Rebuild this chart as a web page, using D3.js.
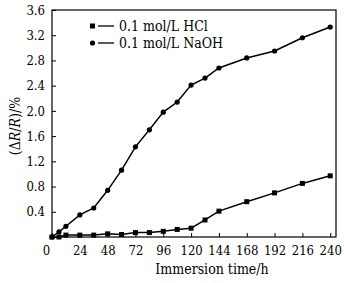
<!DOCTYPE html>
<html>
<head>
<meta charset="utf-8">
<script src="https://cdn.jsdelivr.net/npm/d3@7"></script>
<style>
body { margin: 0; background: #fff; }
svg { display: block; }
svg text { font-family: "DejaVu Serif Condensed", "DejaVu Serif", serif; font-stretch: condensed; }
</style>
</head>
<body>
<svg width="344" height="283"></svg>
<script>
var hours = [0, 6, 12, 24, 36, 48, 60, 72, 84, 96, 108, 120, 132, 144, 168, 192, 216, 240];
var hcl = [0, 0, 0.03, 0.03, 0.03, 0.05, 0.04, 0.07, 0.07, 0.09, 0.12, 0.14, 0.27, 0.41, 0.56, 0.70, 0.85, 0.97];
var naoh = [0, 0.08, 0.17, 0.35, 0.46, 0.74, 1.06, 1.43, 1.70, 1.98, 2.14, 2.41, 2.52, 2.68, 2.84, 2.95, 3.16, 3.33];
var xticks = [0, 24, 48, 72, 96, 120, 144, 168, 192, 216, 240];
var yticks = [0.4, 0.8, 1.2, 1.6, 2.0, 2.4, 2.8, 3.2, 3.6];
var seriesNames = ["0.1 mol/L HCl", "0.1 mol/L NaOH"];

const plotLeft = 52, plotRight = 336, plotTop = 10, plotBottom = 237;

window.onload = function() {
    var svg = d3.select("svg");

    var x = d3.scaleLinear().domain([0, 245]).range([plotLeft, plotRight]);
    var y = d3.scaleLinear().domain([0, 3.6]).range([plotBottom, plotTop]);

    // frame
    svg.append("rect")
        .attr("x", plotLeft).attr("y", plotTop)
        .attr("width", plotRight - plotLeft).attr("height", plotBottom - plotTop)
        .attr("fill", "none").attr("stroke", "#000").attr("stroke-width", 1.2);

    // axes, ticks inside
    var xAxis = svg.append("g")
        .attr("transform", "translate(0," + plotBottom + ")")
        .call(d3.axisBottom(x).tickValues(xticks).tickSizeInner(-4).tickSizeOuter(0).tickPadding(9)
            .tickFormat(d3.format("d")));
    var yAxis = svg.append("g")
        .attr("transform", "translate(" + plotLeft + ",0)")
        .call(d3.axisLeft(y).tickValues(yticks).tickSizeInner(-4).tickSizeOuter(0).tickPadding(7)
            .tickFormat(d3.format(".1f")));

    [xAxis, yAxis].forEach(function(g) {
        g.attr("font-family", null).attr("font-size", null);
        g.select(".domain").remove();
        g.selectAll("line").attr("stroke", "#000").attr("stroke-width", 1);
        g.selectAll("text").attr("font-size", 13).attr("fill", "#000");
    });
    xAxis.selectAll(".tick").filter(function(d) { return d === 0; })
        .select("text").attr("dx", -6);

    // series lines + markers
    var line = d3.line()
        .x(function(d) { return x(d[0]); })
        .y(function(d) { return y(d[1]); });

    var hclPts = hours.map(function(h, i) { return [h, hcl[i]]; });
    var naohPts = hours.map(function(h, i) { return [h, naoh[i]]; });

    svg.append("path").datum(hclPts).attr("d", line)
        .attr("fill", "none").attr("stroke", "#000").attr("stroke-width", 1.5);
    svg.append("path").datum(naohPts).attr("d", line)
        .attr("fill", "none").attr("stroke", "#000").attr("stroke-width", 1.5);

    svg.selectAll("rect.hcl").data(hclPts).enter().append("rect")
        .attr("class", "hcl")
        .attr("x", function(d) { return x(d[0]) - 2.5; })
        .attr("y", function(d) { return y(d[1]) - 2.5; })
        .attr("width", 5).attr("height", 5)
        .attr("fill", "#000");

    svg.selectAll("circle.naoh").data(naohPts).enter().append("circle")
        .attr("class", "naoh")
        .attr("cx", function(d) { return x(d[0]); })
        .attr("cy", function(d) { return y(d[1]); })
        .attr("r", 2.6)
        .attr("fill", "#000");

    // legend
    var legend = svg.append("g");
    seriesNames.forEach(function(name, i) {
        var ly = 26 + i * 17;
        if (i === 0) {
            legend.append("rect").attr("x", 90).attr("y", ly - 2.5)
                .attr("width", 5).attr("height", 5).attr("fill", "#000");
        } else {
            legend.append("circle").attr("cx", 92.5).attr("cy", ly).attr("r", 2.6).attr("fill", "#000");
        }
        legend.append("line").attr("x1", 98).attr("x2", 114).attr("y1", ly).attr("y2", ly)
            .attr("stroke", "#000").attr("stroke-width", 1.3);
        legend.append("text").attr("x", 119).attr("y", ly + 4.5)
            .attr("font-size", 14).text(name);
    });

    // axis titles
    svg.append("text")
        .attr("x", 212).attr("y", 274)
        .attr("text-anchor", "middle").attr("font-size", 14)
        .text("Immersion time/h");

    var yt = svg.append("text")
        .attr("transform", "translate(20,126) rotate(-90)")
        .attr("text-anchor", "middle").attr("font-size", 14);
    yt.append("tspan").text("(\u0394");
    yt.append("tspan").attr("font-style", "italic").text("R");
    yt.append("tspan").text("/");
    yt.append("tspan").attr("font-style", "italic").text("R");
    yt.append("tspan").text(")/%");
};
</script>
</body>
</html>
